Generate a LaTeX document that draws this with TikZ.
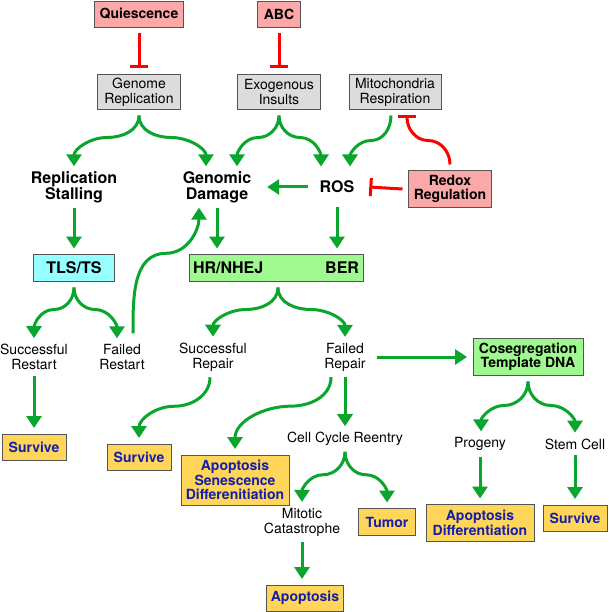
\documentclass[tikz,border=0pt]{standalone}
\usepackage{fontspec}
\setmainfont{TeX Gyre Heros}
\usepackage{xcolor}
\usetikzlibrary{arrows.meta, positioning}

\definecolor{pinkfill}{RGB}{250,168,168}
\definecolor{grayfill}{RGB}{220,220,220}
\definecolor{cyanfill}{RGB}{150,255,255}
\definecolor{greenfill}{RGB}{160,248,144}
\definecolor{yellowfill}{RGB}{255,214,90}
\definecolor{bluetext}{RGB}{20,30,170}
\definecolor{arrowgreen}{RGB}{10,165,45}
\definecolor{boxline}{RGB}{85,85,85}

\begin{document}
\begin{tikzpicture}[
    x=1pt, y=1pt,
    box/.style={rectangle, draw=boxline, line width=0.9pt, align=center, inner xsep=4pt, inner ysep=2pt, outer sep=6pt, minimum height=26pt},
    pinkbox/.style={box, fill=pinkfill, font=\fontsize{14}{14.5}\selectfont\bfseries},
    graybox/.style={box, fill=grayfill, minimum height=35pt, minimum width=83pt, font=\fontsize{14}{15}\selectfont},
    cyanbox/.style={box, fill=cyanfill, minimum height=27pt, font=\fontsize{16}{16}\selectfont\bfseries},
    greenbox/.style={box, fill=greenfill, minimum height=27pt, font=\fontsize{16}{16}\selectfont\bfseries},
    outcome/.style={box, fill=yellowfill, text=bluetext, font=\fontsize{14}{14.5}\selectfont\bfseries},
    keytext/.style={align=center, inner sep=0pt, outer sep=5pt, font=\fontsize{16}{16}\selectfont\bfseries},
    subtext/.style={align=center, inner sep=0pt, outer sep=6pt, font=\fontsize{14}{15}\selectfont},
    arrow/.style={-{Triangle[width=15pt,length=12pt]}, line width=3pt, color=arrowgreen},
    inhibit/.style={-{Bar[width=18pt]}, line width=3pt, color=red}
]
\useasboundingbox (0,0) rectangle (609,-612);

% Nodes
\node[pinkbox, minimum width=89pt] (quie) at (139,-14) {Quiescence};
\node[pinkbox, minimum width=43pt] (abc) at (279,-14) {ABC};
\node[graybox] (genrep) at (139,-92) {Genome\\Replication};
\node[graybox] (exo) at (279,-92) {Exogenous\\Insults};
\node[graybox, minimum width=92pt] (mito) at (395,-92) {Mitochondria\\Respiration};

\node[keytext] (stall) at (74,-187) {Replication\\Stalling};
\node[keytext] (gendam) at (217,-187) {Genomic\\Damage};
\node[keytext, minimum height=31pt] (ros) at (337,-187) {ROS};
\node[pinkbox, minimum width=83pt, minimum height=37pt] (redox) at (450,-189) {Redox\\Regulation};

\node[cyanbox, minimum width=81pt, node distance=81pt, below of=stall] (tls) {TLS/TS};
\node[greenbox, text width=166pt, align=left] (hr) at (276,-268) {HR/NHEJ\hfill BER};

\node[subtext] (srest) at (34,-357) {Successful\\Restart};
\node[subtext] (frest) at (122,-357) {Failed\\Restart};
\node[subtext] (srep) at (213,-357) {Successful\\Repair};
\node[subtext] (frep) at (345,-357) {Failed\\Repair};
\node[greenbox, minimum width=110pt, minimum height=37pt, font=\fontsize{14}{14}\selectfont\bfseries] (coseg) at (528,-357) {Cosegregation\\Template DNA};

\node[outcome, minimum width=64pt, node distance=90pt, below of=srest] (surv1) {Survive};
\node[outcome, minimum width=64pt] (surv2) at (139,-457) {Survive};
\node[outcome, minimum width=108pt, minimum height=50pt] (aposen) at (235,-480) {Apoptosis\\Senescence\\Differenitiation};
\node[subtext, node distance=82pt, below of=frep] (ccr) {Cell Cycle Reentry};
\node[subtext] (prog) at (480,-444) {Progeny};
\node[subtext] (stem) at (575,-444) {Stem Cell};
\node[subtext] (mitcat) at (302,-522) {Mitotic\\Catastrophe};
\node[outcome, minimum width=57pt, minimum height=27pt] (tumor) at (387,-522) {Tumor};
\node[outcome, minimum width=108pt, minimum height=37pt, node distance=79pt, below of=prog] (apodiff) {Apoptosis\\Differentiation};
\node[outcome, minimum width=64pt, node distance=74pt, below of=stem] (surv3) {Survive};
\node[outcome, minimum width=77pt] (apop) at (305,-598) {Apoptosis};

% Inhibitions
\draw[inhibit] (quie) -- (genrep);
\draw[inhibit] (abc) -- (exo);
\draw[inhibit] (redox.west) -- ([xshift=10pt]ros.east);
\draw[inhibit] (redox.north) to[out=90,in=0] ++(-22,24) to[out=180,in=-90] ([xshift=12pt]mito.south);

% Arrows
\draw[arrow] (genrep.south) to[out=-90,in=0] ++(-32,-22) to[out=180,in=90] (stall.north);
\draw[arrow] (genrep.south) to[out=-90,in=180] ++(32,-22) to[out=0,in=90] ([xshift=-11pt]gendam.north);
\draw[arrow] (exo.south) to[out=-90,in=0] ++(-21,-22) to[out=180,in=90] ([xshift=20pt]gendam.north);
\draw[arrow] (exo.south) to[out=-90,in=180] ++(21,-22) to[out=0,in=90] ([xshift=-16pt]ros.north);
\draw[arrow] ([xshift=-4pt]mito.south) to[out=-90,in=0] ++(-20,-25) to[out=180,in=90] ([xshift=13pt]ros.north);
\draw[arrow] ([xshift=-7pt]ros.west) -- ([xshift=11pt]gendam.east);
\draw[arrow] (stall) -- (tls);
\draw[arrow] (gendam.south) -- (gendam.south |- hr.north);
\draw[arrow] (ros.south) -- (ros.south |- hr.north);
\draw[arrow] ([xshift=11pt,yshift=5pt]frest.north) to[out=90,in=180] ++(33,80) to[out=0,in=-90] ([xshift=-18pt]gendam.south);

\draw[arrow] (tls.south) to[out=-90,in=0] ++(-20,-22) to[out=180,in=90] (srest.north);
\draw[arrow] (tls.south) to[out=-90,in=180] ++(21,-22) to[out=0,in=90] ([xshift=-5pt]frest.north);
\draw[arrow] ([xshift=2pt]hr.south) to[out=-90,in=0] ++(-32,-22) to[out=180,in=90] (srep.north);
\draw[arrow] ([xshift=2pt]hr.south) to[out=-90,in=180] ++(33,-22) to[out=0,in=90] (frep.north);

\draw[arrow] (srest) -- (surv1);
\draw[arrow] ([xshift=-3pt]srep.south) to[out=-90,in=0] ++(-36,-29) to[out=180,in=90] (surv2.north);
\draw[arrow] ([xshift=-14pt]frep.south) to[out=-90,in=0] ++(-40,-29) to[out=180,in=90] (aposen.north);
\draw[arrow] (frep) -- (ccr);
\draw[arrow] ([xshift=5pt]frep.east) -- (coseg.west);

\draw[arrow] (coseg.south) to[out=-90,in=0] ++(-24,-24) to[out=180,in=90] ([xshift=1pt]prog.north);
\draw[arrow] (coseg.south) to[out=-90,in=180] ++(23,-24) to[out=0,in=90] (stem.north);
\draw[arrow] (prog) -- (apodiff);
\draw[arrow] (stem) -- (surv3);

\draw[arrow] (ccr.south) to[out=-90,in=0] ++(-22,-23) to[out=180,in=90] (mitcat.north);
\draw[arrow] (ccr.south) to[out=-90,in=180] ++(21,-23) to[out=0,in=90] (tumor.north);
\draw[arrow] (mitcat.south) -- (mitcat.south |- apop.north);

\end{tikzpicture}
\end{document}
